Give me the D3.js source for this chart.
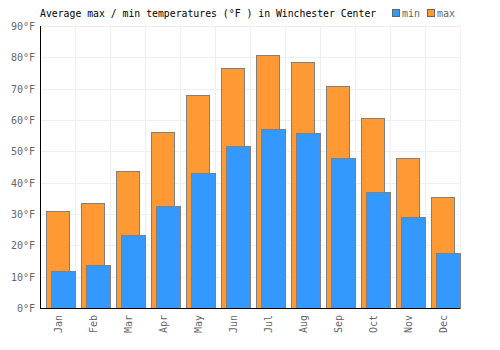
<!DOCTYPE html>
<html lang="en">
<head>
<meta charset="utf-8">
<title>Winchester Center temperatures</title>
<script src="https://d3js.org/d3.v7.min.js"></script>
<style>
  body { margin: 0; background: #fff; }
  svg { display: block; font-family: "DejaVu Sans Mono", monospace; }
</style>
</head>
<body>
<svg width="500" height="350"></svg>
<script>
const months = ["Jan", "Feb", "Mar", "Apr", "May", "Jun", "Jul", "Aug", "Sep", "Oct", "Nov", "Dec"];
const maxTemps = [31.0, 33.4, 43.6, 56.1, 67.9, 76.5, 80.8, 78.6, 70.7, 60.5, 47.8, 35.4];
const minTemps = [11.7, 13.6, 23.2, 32.4, 43.0, 51.8, 57.2, 55.8, 47.8, 37.0, 28.9, 17.5];
const yTicks = [0, 10, 20, 30, 40, 50, 60, 70, 80, 90];

const svg = d3.select("svg");
const plotLeft = 40, plotRight = 460, plotTop = 26, plotBottom = 308;

const x = d3.scaleBand().domain(months).range([plotLeft, plotRight]).padding(0);
const y = d3.scaleLinear().domain([0, 90]).range([plotBottom, plotTop]);
const bw = x.bandwidth();

// grid
svg.append("g")
  .selectAll("line")
  .data(yTicks)
  .join("line")
  .attr("x1", plotLeft).attr("x2", plotRight)
  .attr("y1", d => Math.round(y(d)) + 0.5).attr("y2", d => Math.round(y(d)) + 0.5)
  .attr("stroke", "#eeeeee");

svg.append("g")
  .selectAll("line")
  .data(months)
  .join("line")
  .attr("x1", d => Math.round(x(d) + bw) + 0.5)
  .attr("x2", d => Math.round(x(d) + bw) + 0.5)
  .attr("y1", plotTop).attr("y2", plotBottom)
  .attr("stroke", "#eeeeee");

// max bars
svg.append("g")
  .selectAll("rect")
  .data(months)
  .join("rect")
  .attr("x", d => Math.round(x(d) + bw * 6 / 35) + 0.5)
  .attr("width", Math.round(bw * 23 / 35))
  .attr("y", (d, i) => Math.round(y(maxTemps[i])) + 0.5)
  .attr("height", (d, i) => plotBottom - Math.round(y(maxTemps[i])))
  .attr("fill", "#ff9933")
  .attr("stroke", "#808080");

// min bars
svg.append("g")
  .selectAll("rect")
  .data(months)
  .join("rect")
  .attr("x", d => Math.round(x(d) + bw * 11 / 35) + 0.5)
  .attr("width", Math.round(bw * 24 / 35))
  .attr("y", (d, i) => Math.round(y(minTemps[i])) + 0.5)
  .attr("height", (d, i) => plotBottom - Math.round(y(minTemps[i])))
  .attr("fill", "#3399ff")
  .attr("stroke", "#808080");

// axis lines
svg.append("line")
  .attr("x1", plotLeft + 0.5).attr("x2", plotLeft + 0.5)
  .attr("y1", plotTop).attr("y2", plotBottom + 1)
  .attr("stroke", "#000");
svg.append("line")
  .attr("x1", plotLeft).attr("x2", plotRight)
  .attr("y1", plotBottom + 0.5).attr("y2", plotBottom + 0.5)
  .attr("stroke", "#000");

// y tick labels
svg.append("g")
  .selectAll("text")
  .data(yTicks)
  .join("text")
  .attr("x", 35)
  .attr("y", d => y(d) + 4)
  .attr("text-anchor", "end")
  .attr("font-size", 10)
  .attr("fill", "#666")
  .text(d => d + "°F");

// x tick labels
svg.append("g")
  .selectAll("text")
  .data(months)
  .join("text")
  .attr("transform", d => `translate(${x(d) + bw / 2 + 4},${plotBottom + 7}) rotate(-90)`)
  .attr("text-anchor", "end")
  .attr("font-size", 10)
  .attr("fill", "#666")
  .text(d => d);

// title
svg.append("text")
  .attr("x", 40)
  .attr("y", 17)
  .attr("font-size", 9.8)
  .attr("fill", "#000")
  .text("Average max / min temperatures (°F ) in Winchester Center");

// legend
const legend = [["min", "#3399ff", 392], ["max", "#ff9933", 427]];
legend.forEach(([label, color, lx]) => {
  svg.append("rect")
    .attr("x", lx + 0.5).attr("y", 9.5)
    .attr("width", 7).attr("height", 7)
    .attr("fill", color).attr("stroke", "#666");
  svg.append("text")
    .attr("x", lx + 10).attr("y", 17)
    .attr("font-size", 10)
    .attr("fill", "#666")
    .text(label);
});
</script>
</body>
</html>
